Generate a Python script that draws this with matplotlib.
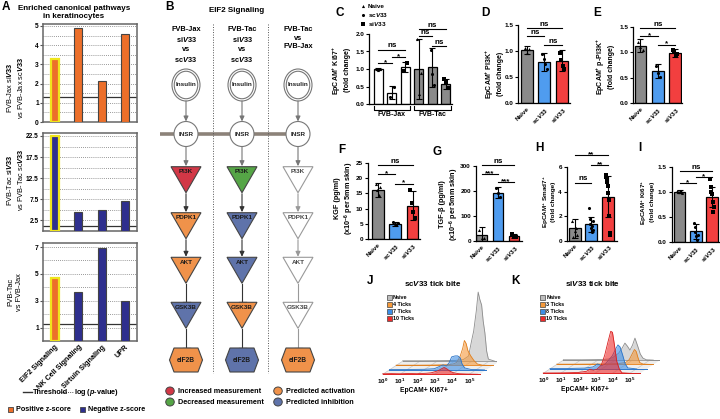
import numpy as np
import matplotlib.pyplot as plt
from matplotlib.patches import Ellipse, Polygon, Rectangle

plt.rcParams['font.family'] = ['Liberation Sans', 'DejaVu Sans']
plt.rcParams['font.weight'] = 'bold'
plt.rcParams['mathtext.fontset'] = 'custom'
plt.rcParams['mathtext.rm'] = 'Liberation Sans:bold'
plt.rcParams['mathtext.it'] = 'Liberation Sans:italic:bold'
plt.rcParams['mathtext.bf'] = 'Liberation Sans:bold'

W, H = 720, 419

# ---------------- DATA ----------------
# A: enriched pathways, -log(p-value)
pathways = ["EIF2 Signaling", "NK Cell Signaling", "Sirtuin Signaling", "UPR"]
jax_logp = [3.27, 4.9, 2.12, 4.6]
tac_logp = [22.5, 4.4, 5.0, 7.1]
tac_vs_jax_logp = [4.7, 3.65, 6.95, 3.0]
jax_z = ["pos", "pos", "pos", "pos"]
tac_z = ["neg", "neg", "neg", "neg"]
tac_vs_jax_z = ["pos", "neg", "neg", "neg"]
threshold = 1.3

# B: EIF2 signaling node states
b_headers = ["FVB-Jax\nsi$\\it{V33}$\nvs\nsc$\\it{V33}$",
             "FVB-Tac\nsi$\\it{V33}$\nvs\nsc$\\it{V33}$",
             "FVB-Tac\nvs\nFVB-Jax"]
b_nodes = ["PI3K", "PDPK1", "AKT", "GSK3B", "eIF2B"]
b_links = ["act", "act", "inh", "inh"]
b_states = [["inc", "act", "act", "inh", "act"],
            ["dec", "inh", "inh", "act", "inh"],
            ["none", "none", "none", "none", "act"]]
b_legend = [("inc", "Increased measurement"), ("dec", "Decreased measurement"),
            ("act", "Predicted activation"), ("inh", "Predicted inhibition")]

# C: EpCAM+ Ki67+ fold change
c_groups = ["FVB-Jax", "FVB-Tac"]
c_means = [1.0, 0.33, 1.06, 1.0, 1.05, 0.58]
c_sd = [0.02, 0.19, 0.15, 0.85, 0.55, 0.15]
c_points = [[1.0, 0.98, 1.01], [0.2, 0.48], [0.95, 1.17],
            [1.85, 0.3, 0.9], [1.55, 0.85, 0.55], [0.72, 0.64, 0.45]]
c_sig = [(0, 1, 1.17, "*"), (1, 2, 1.35, "*"), (0, 2, 1.55, "ns"),
         (4, 5, 1.66, "ns"), (3, 4, 1.94, "ns"), (3, 5, 2.13, "ns")]

groups = ["Naive", "sc$\\it{V33}$", "si$\\it{V33}$"]

# D: EpCAM+ PI3K+
d_means = [1.02, 0.8, 0.82]
d_sd = [0.08, 0.17, 0.2]
d_points = [[1.06, 0.97, 1.04], [0.95, 0.85, 0.75, 0.66], [0.97, 0.84, 0.72, 0.66]]
d_sig = [(0, 1, 1.29, "ns"), (1, 2, 1.12, "ns"), (0, 2, 1.44, "ns")]

# E: EpCAM+ p-PI3K+
e_means = [1.13, 0.63, 0.99]
e_sd = [0.12, 0.13, 0.08]
e_points = [[1.2, 1.1, 1.05], [0.73, 0.6, 0.52], [1.05, 1.0, 0.92, 0.96]]
e_sig = [(0, 1, 1.31, "*"), (1, 2, 1.15, "*"), (0, 2, 1.47, "ns")]

# F: KGF
f_means = [16.0, 5.0, 11.0]
f_sd = [2.3, 0.6, 4.8]
f_points = [[18, 16, 14.5, 17], [5.6, 5.0, 4.6, 5.2], [16, 12, 9, 7]]
f_sig = [(0, 1, 21.2, "*"), (1, 2, 18.2, "*"), (0, 2, 24.2, "ns")]

# G: TGF-beta
g_means = [22, 192, 20]
g_sd = [33, 22, 8]
g_points = [[45, 10, 12], [212, 190, 175], [28, 18, 14]]
g_sig = [(0, 1, 268, "***"), (1, 2, 237, "***"), (0, 2, 304, "ns")]

# H: EpCAM+ Smad7+
h_means = [1.0, 1.35, 3.6]
h_sd = [0.8, 0.6, 1.7]
h_points = [[1.6, 0.3, 0.8, 1.0, 0.5], [2.7, 1.8, 1.4, 1.0, 0.7, 1.2, 1.6, 0.9],
            [5.4, 5.2, 4.9, 4.8, 4.5, 3.9, 3.3, 2.0, 0.5, 0.6]]
h_sig = [(0, 1, 4.75, "ns"), (1, 2, 6.2, "**"), (0, 2, 7.0, "**")]

# I: EpCAM+ Ki67+
i_means = [1.0, 0.22, 0.9]
i_sd = [0.03, 0.15, 0.2]
i_points = [[1.02, 1.0, 0.99, 1.0, 1.01, 0.98], [0.38, 0.3, 0.2, 0.12, 0.05, 0.15],
            [1.25, 1.1, 1.0, 0.95, 0.8, 0.6, 0.7]]
i_sig = [(0, 1, 1.18, "*"), (1, 2, 1.3, "*"), (0, 2, 1.41, "ns")]

# J / K: layered histograms (x in decades, height in counts)
hist_decades = [0, 1, 2, 3, 4, 5]
j_labels = ["Naive", "4 Ticks", "7 Ticks", "10 Ticks"]
j_x = [[0, 1, 2, 3, 3.5, 3.8, 4.0, 4.1, 4.25, 4.36, 4.45, 4.56, 4.65, 4.75, 4.85, 4.95, 5.3],
       [0, 1, 2, 3, 3.3, 3.5, 3.7, 3.85, 3.95, 4.05, 4.15, 4.3, 4.5, 4.7, 5.0, 5.5],
       [0, 1, 2, 2.6, 2.9, 3.1, 3.3, 3.45, 3.6, 3.8, 3.95, 4.1, 4.2, 4.35, 4.7, 5.5],
       [0, 0.5, 1.0, 1.5, 2.0, 2.5, 2.8, 3.0, 3.2, 3.4, 3.55, 3.7, 3.9, 4.1, 4.4, 4.8, 5.5]]
j_y = [[0.3, 0.3, 0.4, 0.6, 1.5, 5, 22, 30, 50, 69, 62, 56, 40, 28, 10, 2, 0],
       [0.3, 0.3, 0.4, 0.8, 1.5, 3, 9, 17, 25, 22, 15, 10, 5, 1.5, 0.3, 0],
       [0.3, 0.4, 0.6, 1.2, 3.5, 5, 4, 7, 13, 14, 14, 12, 6, 2, 0.5, 0],
       [0.5, 0.7, 0.5, 0.8, 0.6, 1.0, 1.5, 2.5, 3.5, 5.5, 6.8, 5.5, 3.0, 1.5, 0.6, 0.3, 0]]
k_labels = ["Naive", "3 Ticks", "8 Ticks", "10 Ticks"]
k_x = [[0, 1, 2, 2.6, 2.9, 3.2, 3.4, 3.56, 3.7, 3.85, 4.0, 4.14, 4.3, 4.45, 4.6, 4.8, 5.2],
       [0, 1, 2, 3, 3.6, 4.0, 4.2, 4.35, 4.5, 4.6, 4.7, 4.8, 5.0, 5.5],
       [0, 1, 2, 2.5, 2.75, 3.0, 3.2, 3.4, 3.6, 3.8, 3.93, 4.05, 4.2, 4.35, 4.5, 5.0],
       [0, 1, 2, 2.5, 2.7, 2.9, 3.1, 3.35, 3.55, 3.75, 3.9, 4.0, 4.1, 4.25, 4.4, 4.55, 5.0]]
k_y = [[0.3, 0.3, 0.5, 1, 3, 7, 12, 17, 14, 10, 15, 22, 14, 6, 2, 0.3, 0],
       [0.3, 0.3, 0.4, 0.6, 1, 2, 5, 10, 15, 13, 7, 2, 0.4, 0],
       [0.3, 0.4, 0.8, 2, 5, 3, 5, 9, 13, 20, 24, 22, 14, 5, 1, 0],
       [0.3, 0.4, 0.8, 2, 4, 3, 4, 8, 18, 32, 42, 41, 30, 12, 4, 0.5, 0]]

# ---------------- STYLE ----------------
ORANGE, NAVY, YELLOW = '#EC6F2A', '#2E2F8E', '#EFE51C'
GRAY, BLUE, RED = '#8A8A8A', '#4F9CEF', '#F23F3F'
state_fc = {"inc": '#D23746', "dec": '#55A546', "act": '#F0924A', "inh": '#5F73AA', "none": 'white'}
hist_fc = ['#BDBDBD', '#F5993A', '#3D8EE6', '#EE2B2B']
hist_ec = ['#8C8C8C', '#E07F1E', '#2A74C8', '#D81F1F']
MARKERS = ['^', 'o', 's']

fig = plt.figure(figsize=(7.2, 4.19), dpi=100)


def box(x0, y0, x1, y1):
    ax = fig.add_axes([x0 / W, 1 - y1 / H, (x1 - x0) / W, (y1 - y0) / H])
    ax.patch.set_visible(False)
    return ax


def ftext(x, y, s, **kw):
    fig.text(x / W, 1 - y / H, s, **kw)


# ---------------- A ----------------
a_rows = [(jax_logp, jax_z, 24, 122, 5.1, [0, 1, 2, 3, 4, 5], 0.5, 88,
           "FVB-Jax si$\\it{V33}$\nvs FVB-Jax sc$\\it{V33}$"),
          (tac_logp, tac_z, 133, 231, 23.2, [2.5, 7.5, 12.5, 17.5, 22.5], 2.5, 180,
           "FVB-Tac si$\\it{V33}$\nvs FVB-Tac sc$\\it{V33}$"),
          (tac_vs_jax_logp, tac_vs_jax_z, 243, 341, 7.3, [1, 3, 5, 7], 1, 292,
           "FVB-Tac\nvs FVB-Jax")]
for n, (vals, zs, yt, yb, top, ticks, step, lab_y, lab) in enumerate(a_rows):
    ax = box(43, yt, 137, yb)
    xs = np.arange(len(vals))
    cols = [ORANGE if z == "pos" else NAVY for z in zs]
    ecs = [YELLOW] + ['#444'] * (len(vals) - 1)
    lws = [1.6] + [0.8] * (len(vals) - 1)
    ax.bar(xs, vals, width=0.32, color=cols, edgecolor=ecs, linewidth=lws, zorder=3)
    ax.axhline(threshold, color='#333', lw=0.9, zorder=2)
    ax.set_xlim(-0.5, 3.5)
    ax.set_ylim(0, top)
    ax.set_yticks(ticks)
    ax.set_yticks(np.arange(0, top, step), minor=True)
    ax.yaxis.grid(True, which='both', ls=(0, (1, 1.5)), color='#777', lw=0.6, zorder=1)
    ax.tick_params(axis='y', which='major', labelsize=4.8, length=2, width=0.8, pad=1, color='#555')
    ax.tick_params(axis='y', which='minor', length=0)
    for s in ax.spines.values():
        s.set_color('#666')
        s.set_linewidth(1.1)
    if n == 2:
        ax.set_xticks(xs)
        ax.set_xticklabels(pathways, rotation=45, ha='right', rotation_mode='anchor', fontsize=5.2)
        ax.tick_params(axis='x', length=0, pad=2)
    else:
        ax.set_xticks([])
    ftext(15, lab_y, lab, rotation=90, ha='center', va='center', fontsize=5.3,
          fontweight='normal', linespacing=1.25)

# ---------------- bar panels ----------------


def bar_panel(rect, xlim, ylim, yticks, fmt, means, sds, pts, colors, sig, xlabels, width=0.68):
    ax = box(*rect)
    xs = np.arange(len(means))
    ax.bar(xs, means, width=width, color=colors, edgecolor='black', linewidth=0.9, zorder=2)
    ax.errorbar(xs, means, yerr=sds, fmt='none', ecolor='black', elinewidth=0.8,
                capsize=2, capthick=0.8, zorder=3)
    for xi, p in zip(xs, pts):
        jit = np.linspace(-0.13, 0.13, len(p))
        ax.scatter(xi + jit, p, s=5, marker=MARKERS[xi % 3], color='black', zorder=4, linewidths=0)
    for i, j, y, s in sig:
        ax.plot([i, j], [y, y], color='black', lw=0.8, clip_on=False)
        ax.annotate(s, ((i + j) / 2, y), xytext=(0, 0.2 if s == "ns" else -2.2),
                    textcoords='offset points', ha='center', va='bottom', fontsize=5.8,
                    annotation_clip=False)
    ax.set_xlim(xlim)
    ax.set_ylim(ylim)
    ax.set_yticks(yticks)
    ax.set_yticklabels([fmt % t for t in yticks])
    for s in ['top', 'right']:
        ax.spines[s].set_visible(False)
    for s in ['left', 'bottom']:
        ax.spines[s].set_linewidth(0.9)
    ax.tick_params(axis='y', labelsize=4.6, length=2.5, width=0.8, pad=1)
    ax.set_xticks(xs)
    if xlabels:
        ax.set_xticklabels(groups, rotation=45, ha='right', rotation_mode='anchor', fontsize=4.6)
    else:
        ax.set_xticklabels([])
    ax.tick_params(axis='x', length=0, pad=2)
    return ax


# C
axc = bar_panel((369, 33.9, 452, 104.3), (-0.69, 5.46), (0, 2.0), [0, 0.5, 1.0, 1.5, 2.0], '%.1f',
                c_means, c_sd, c_points, ['white'] * 3 + [GRAY] * 3, c_sig, False, width=0.65)
tr = axc.get_xaxis_transform()
for g, name in enumerate(c_groups):
    lo, hi = g * 3 - 0.35, g * 3 + 2.35
    axc.plot([lo, lo, hi, hi], [-0.03, -0.075, -0.075, -0.03], color='black', lw=0.8,
             transform=tr, clip_on=False)
    axc.text(g * 3 + 1, -0.15, name, transform=tr, ha='center', va='center', fontsize=5)

bar_panel((518, 25.3, 570, 103.3), (-0.51, 2.46), (0, 1.5), [0, 0.5, 1.0, 1.5], '%.1f',
          d_means, d_sd, d_points, [GRAY, BLUE, RED], d_sig, True)
bar_panel((633, 26.7, 682, 103.3), (-0.43, 2.4), (0, 1.5), [0, 0.5, 1.0, 1.5], '%.1f',
          e_means, e_sd, e_points, [GRAY, BLUE, RED], e_sig, True)
bar_panel((368, 162.7, 420, 239.3), (-0.58, 2.43), (0, 25), [0, 5, 10, 15, 20, 25], '%d',
          f_means, f_sd, f_points, [GRAY, BLUE, RED], f_sig, True)
bar_panel((475.7, 166, 522, 241), (-0.36, 2.49), (0, 300), [0, 100, 200, 300], '%d',
          g_means, g_sd, g_points, [GRAY, BLUE, RED], g_sig, True, width=0.64)
bar_panel((566.7, 167.3, 617, 240.7), (-0.47, 2.54), (0, 6), [0, 2, 4, 6], '%d',
          h_means, h_sd, h_points, [GRAY, BLUE, RED], h_sig, True, width=0.72)
bar_panel((671.7, 166.7, 720, 242.3), (-0.48, 2.49), (0, 1.5), [0, 0.5, 1.0, 1.5], '%.1f',
          i_means, i_sd, i_points, [GRAY, BLUE, RED], i_sig, True, width=0.72)

ylabels = [(341, 70, 5.0, "EpCAM$^{+}$ Ki67$^{+}$\n(fold change)"),
           (494, 74, 5.0, "EpCAM$^{+}$ PI3K$^{+}$\n(fold change)"),
           (605, 67, 5.0, "EpCAM$^{+}$ p-PI3K$^{+}$\n(fold change)"),
           (345, 198, 5.2, "KGF (pg/ml)\n(x10$^{-6}$ per 5mm skin)"),
           (450, 204, 5.2, "TGF-β (pg/ml)\n(x10$^{-6}$ per 5mm skin)"),
           (549, 202, 4.6, "EpCAM$^{+}$ Smad7$^{+}$\n(fold change)"),
           (647.5, 202, 4.6, "EpCAM$^{+}$ Ki67$^{+}$\n(fold change)")]
for x, y, fs, s in ylabels:
    ftext(x, y, s, rotation=90, ha='center', va='center', fontsize=fs, linespacing=1.1)

# ---------------- J / K histograms ----------------
SX, SY = 0.387, 4.4


def histo(rect, xlim, ylim, xs_list, ys_list):
    ax = box(*rect)
    ax.set_xlim(xlim)
    ax.set_ylim(ylim)
    ax.axis('off')
    nb = len(xs_list) - 1
    ax.fill([0, 5.6, 5.6 + nb * SX, nb * SX], [0, 0, nb * SY, nb * SY], color='#EEEEEE', lw=0, zorder=0)
    for d in hist_decades:
        ax.plot([d, d + nb * SX], [0, nb * SY], color='#C8C8C8', lw=0.5, zorder=0.5)
    for i in range(len(xs_list)):
        k = nb - i
        ox, oy = k * SX, k * SY
        x = np.array(xs_list[i]) + ox
        y = np.array(ys_list[i]) + oy
        ax.plot([ox, ox + 5.6], [oy, oy], color=hist_ec[i], lw=0.7, zorder=1 + i)
        ax.fill_between(x, oy, y, color=hist_fc[i], alpha=0.6, lw=0, zorder=1 + i)
        ax.plot(x, y, color=hist_ec[i], lw=0.6, zorder=1 + i)
    for d in hist_decades:
        ax.text(d, -7, "10$^{%d}$" % d, ha='center', va='center', fontsize=4.5)
    ax.text(2.4, -16, "EpCAM+ Ki67+", ha='center', va='center', fontsize=4.8)
    return ax


histo((372, 270, 497, 400), (-0.62, 6.61), (-25.7, 104.3), j_x, j_y)
histo((535, 270, 660, 400), (-0.48, 6.75), (-26.7, 103.3), k_x, k_y)

# ---------------- overlay: diagram B, legends, letters ----------------
ov = fig.add_axes([0, 0, 1, 1])
ov.set_xlim(0, W)
ov.set_ylim(H, 0)
ov.axis('off')
ov.patch.set_visible(False)

for x in [213, 268]:
    ov.plot([x, x], [24, 373], color='#555', lw=0.7, ls=(0, (1, 1.6)))
ov.plot([160, 307], [134, 134], color='#8C8279', lw=2.6, zorder=1, solid_capstyle='butt')

node_top = [166.7, 212.7, 257.3, 302.3]
b_cx = [186, 242, 298]


def link(cx, y0, y1, kind, color):
    if kind == "act":
        ov.annotate('', xy=(cx, y1), xytext=(cx, y0),
                    arrowprops=dict(arrowstyle='-|>,head_length=0.3,head_width=0.14',
                                    color=color, lw=0.8, shrinkA=0, shrinkB=0))
    else:
        ov.plot([cx, cx], [y0, y1], color=color, lw=0.8)
        ov.plot([cx - 3.5, cx + 3.5], [y1, y1], color=color, lw=0.9)


for ci, cx in enumerate(b_cx):
    ov.text(cx, 26, b_headers[ci], ha='center', va='top', fontsize=5.3, linespacing=1.3)
    dark = '#333' if ci < 2 else '#999'
    ov.add_patch(Ellipse((cx, 85), 28, 32, fc='white', ec='#777', lw=0.8, zorder=2))
    ov.add_patch(Ellipse((cx, 85), 23.5, 27.5, fc='white', ec='#777', lw=0.8, zorder=2))
    ov.text(cx, 85, "Insulin", ha='center', va='center', fontsize=4.6, zorder=3, color='#222')
    ov.add_patch(Ellipse((cx, 134), 24, 25, fc='white', ec='#777', lw=0.8, zorder=2))
    ov.text(cx, 134, "INSR", ha='center', va='center', fontsize=4.6, zorder=3, color='#222')
    link(cx, 101, 121.5, "act", '#777')
    link(cx, 146.5, node_top[0] - 0.5, "act", '#777')
    for ni, top in enumerate(node_top):
        fc = state_fc[b_states[ci][ni]]
        ec = '#999' if fc == 'white' else '#444'
        ov.add_patch(Polygon([(cx - 15, top), (cx + 15, top), (cx, top + 26)], closed=True,
                             fc=fc, ec=ec, lw=0.8, zorder=2))
        ov.text(cx, top + 5, b_nodes[ni], ha='center', va='center', fontsize=4.6, zorder=3,
                color='#1a1a1a' if fc != 'white' else '#444')
        y1 = node_top[ni + 1] if ni + 1 < len(node_top) else 348
        link(cx, top + 27, y1 - 0.5, b_links[ni], dark)
    fc = state_fc[b_states[ci][4]]
    ov.add_patch(Polygon([(cx - 16.5, 360), (cx - 12, 348), (cx + 12, 348), (cx + 16.5, 360),
                          (cx + 12, 372), (cx - 12, 372)], closed=True, fc=fc, ec='#444', lw=0.8, zorder=2))
    ov.text(cx, 360, b_nodes[4], ha='center', va='center', fontsize=4.8, zorder=3, color='#1a1a1a')

leg_pos = [(170, 391), (170, 402), (278, 391), (278, 402)]
for (state, txt), (x, y) in zip(b_legend, leg_pos):
    ov.add_patch(Ellipse((x, y), 8.5, 8, fc=state_fc[state], ec='#444', lw=0.7))
    ov.text(x + 8, y, txt, ha='left', va='center', fontsize=5.2)

# A legend
ov.plot([23, 32], [392, 392], color='#333', lw=1)
ov.text(33, 392, "Threshold", ha='left', va='center', fontsize=5.2)
ov.plot([59, 73], [392, 392], color='#555', lw=0.7, ls=(0, (1, 1.2)))
ov.text(74, 392, "log ($\\it{p}$-value)", ha='left', va='center', fontsize=5.2)
ov.add_patch(Rectangle((8.3, 406.5), 5, 5, fc=ORANGE, ec='#444', lw=0.6))
ov.text(16, 409, "Positive z-score", ha='left', va='center', fontsize=5.2)
ov.add_patch(Rectangle((80, 406.5), 5, 5, fc=NAVY, ec='#444', lw=0.6))
ov.text(88, 409, "Negative z-score", ha='left', va='center', fontsize=5.2)

# C legend
for m, (mk, txt) in enumerate(zip(MARKERS, groups)):
    ov.scatter(363, 6 + 9 * m, s=5, marker=mk, color='black', linewidths=0)
    ov.text(368, 6 + 9 * m, txt, ha='left', va='center', fontsize=4.6)

# J / K legends and titles
for lx, labels in [(389.3, j_labels), (542.7, k_labels)]:
    for m, txt in enumerate(labels):
        y = 297.3 + 7.2 * m
        ov.add_patch(Rectangle((lx - 2.5, y - 2.5), 5, 5, fc=hist_fc[m], ec='#444', lw=0.5))
        ov.text(lx + 3.5, y, txt, ha='left', va='center', fontsize=3.9)
ov.text(433, 283.5, "sc$\\it{V33}$ tick bite", ha='center', va='center', fontsize=5.8)
ov.text(593, 283.5, "si$\\it{V33}$ tick bite", ha='center', va='center', fontsize=5.8)

# titles and panel letters
ov.text(74, 12, "Enriched canonical pathways\nin keratinocytes", ha='center', va='center',
        fontsize=5.8, linespacing=1.2)
ov.text(237, 10, "EIF2 Signaling", ha='center', va='center', fontsize=5.8)
letters = [("A", 6, 6.5), ("B", 170, 6.5), ("C", 340, 13), ("D", 485.5, 13), ("E", 597, 13),
           ("F", 341.7, 149.5), ("G", 437, 151.5), ("H", 539.5, 147.5), ("I", 640, 147.5),
           ("J", 370.5, 281), ("K", 515.5, 280.5)]
for s, x, y in letters:
    ov.text(x, y, s, ha='center', va='center', fontsize=8.5)

fig.savefig("out.png", dpi=100)
